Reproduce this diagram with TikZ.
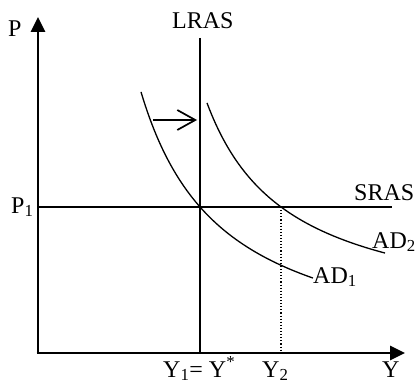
\documentclass[tikz,border=0pt]{standalone}
\usepackage{fontspec}
\setmainfont{Liberation Serif}
\usetikzlibrary{arrows.meta}
\begin{document}
\begin{tikzpicture}[x=1pt,y=-1pt,
  axis/.style={line width=2.6pt,-{Triangle[length=15pt,width=14pt]}},
  thin/.style={line width=1.3pt},
  lbl/.style={inner sep=0pt,anchor=base west,font=\fontsize{24}{28}\selectfont}]
\useasboundingbox (0,0) rectangle (420,385);
\coordinate (O) at (38,353);
\coordinate (ytop) at (38,17);
\coordinate (xend) at (405,353);
\draw[axis] (O) -- (ytop);
\draw[axis] ([xshift=-1.3pt]O) -- (xend);
% LRAS
\coordinate (lt) at (200,38);
\coordinate (lb) at (200,353);
\draw[thin] (lt) -- (lb);
% SRAS
\coordinate (sl) at (38,207);
\coordinate (sr) at (392,207);
\draw[thin] (sl) -- (sr);
% dotted Y2
\coordinate (dt) at (281,207);
\coordinate (db) at (281,353);
\draw[line width=1.1pt,dotted] (dt) -- (db);
% AD curves
\draw[thin] plot[domain=141:313,samples=80] (\x,{366.8-225.4/((\x-59)/100)});
\draw[thin] plot[domain=207:385,samples=80] (\x,{322.2-179.8/((\x-125)/100)});
% shift arrow
\coordinate (a1) at (153,120);
\coordinate (a2) at (197,120);
\draw[line width=1.7pt,-{Straight Barb[length=18pt,width=20pt]}] (a1) -- (a2);
% labels
\node[lbl] (P) at (8,37) {P};
\node[lbl] (LRAS) at (172,29) {LRAS};
\node[lbl] (SRAS) at (354,200) {SRAS};
\node[lbl] (P1) at (11,213) {P\textsubscript{1}};
\node[lbl] (AD2) at (372,248) {AD\textsubscript{2}};
\node[lbl] (AD1) at (313,283) {AD\textsubscript{1}};
\node[lbl] (Y1) at (163,377) {Y\textsubscript{1}= Y\textsuperscript{*}};
\node[lbl] (Y2) at (262,377) {Y\textsubscript{2}};
\node[lbl] (Y) at (382,377) {Y};
\end{tikzpicture}
\end{document}
